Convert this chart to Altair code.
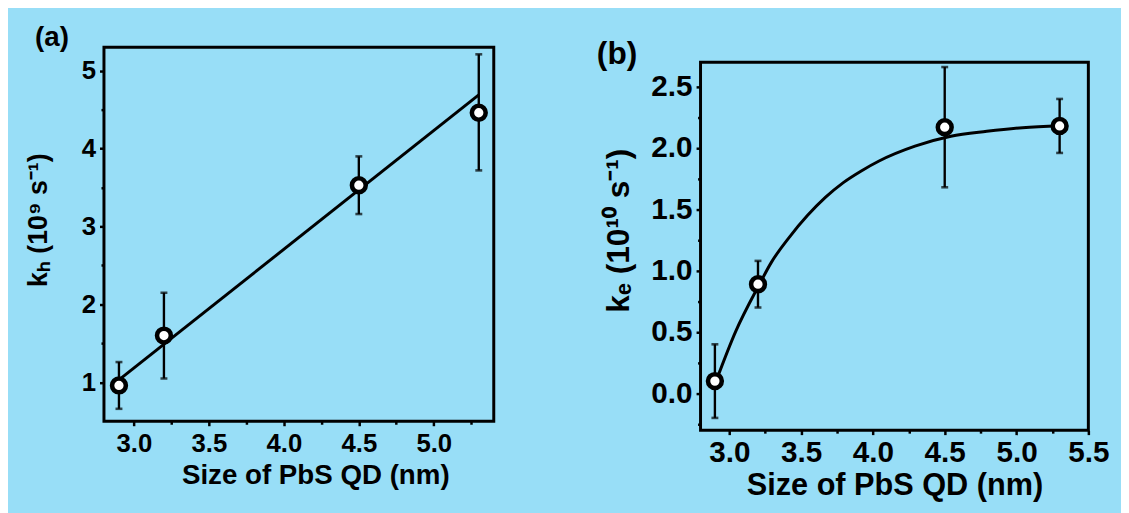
import altair as alt
import pandas as pd

# ---------------- data: panel (a) ----------------
size_a = [2.9, 3.2, 4.5, 5.3]
kh = [0.96, 1.60, 3.53, 4.46]
kh_lo = [0.66, 1.05, 3.16, 3.72]
kh_hi = [1.26, 2.15, 3.90, 5.21]
fit_a_x = [2.906, 5.30]
fit_a_y = [1.04, 4.69]

# ---------------- data: panel (b) ----------------
size_b = [2.9, 3.2, 4.5, 5.3]
ke = [0.10, 0.89, 2.17, 2.18]
ke_lo = [-0.20, 0.70, 1.68, 1.96]
ke_hi = [0.40, 1.08, 2.66, 2.40]
fit_b_x = [2.908, 3.045, 3.207, 3.295, 3.419, 3.544, 3.669, 3.794, 3.919,
           4.043, 4.293, 4.543, 4.793, 5.042, 5.305]
fit_b_y = [0.10, 0.506, 0.883, 1.072, 1.274, 1.449, 1.597, 1.718, 1.813,
           1.894, 2.015, 2.096, 2.136, 2.166, 2.182]

panel_labels = ["(a)", "(b)"]
x_title = "Size of PbS QD (nm)"
y_title_a = "kₕ (10⁹ s⁻¹)"
y_title_b = "kₑ (10¹⁰ s⁻¹)"

xa_major = [3.0, 3.5, 4.0, 4.5, 5.0]
xa_minor = [3.25, 3.75, 4.25, 4.75, 5.25]
ya_major = [1, 2, 3, 4, 5]
ya_minor = [1.5, 2.5, 3.5, 4.5]
xb_major = [3.0, 3.5, 4.0, 4.5, 5.0, 5.5]
xb_minor = [3.25, 3.75, 4.25, 4.75, 5.25]
yb_major = [0.0, 0.5, 1.0, 1.5, 2.0, 2.5]
yb_minor = [-0.25, 0.25, 0.75, 1.25, 1.75, 2.25]

FONT = "Liberation Sans"
BG = "#98DEF7"

common_axis = dict(domain=False, grid=False, tickColor="black", tickWidth=2.5,
                   labelColor="black", titleColor="black", labelFont=FONT,
                   titleFont=FONT, labelFontWeight="bold", titleFontWeight="bold",
                   labelFlush=False, labelOverlap=False)


def minor_axis(values, orient):
    return alt.Axis(values=values, labels=False, title=None, tickSize=3,
                    orient=orient, domain=False, grid=False, tickColor="black",
                    tickWidth=2.5)


def panel(xs, ys, lo, hi, fx, fy, xdom, ydom, xmaj, xmin, ymaj, ymin,
          yfmt, ytitle, tick_fs, xt_fs, yt_fs, xlabpad, xtitleX, xtitleY,
          ytitleX, ytitleY, label, lab_fs, lab_x, lab_y, w, h, interp):
    pts = pd.DataFrame({"x": xs, "y": ys, "lo": lo, "hi": hi})
    fit = pd.DataFrame({"x": fx, "y": fy})
    lab = pd.DataFrame({"t": [label]})
    xsc = alt.Scale(domain=xdom, nice=False, zero=False)
    ysc = alt.Scale(domain=ydom, nice=False, zero=False)

    xax = alt.Axis(values=xmaj, format=".1f", title=x_title,
                   orient="bottom", labelFontSize=tick_fs, titleFontSize=xt_fs,
                   tickSize=4.5, labelPadding=xlabpad, labelBaseline="alphabetic",
                   titleBaseline="alphabetic", titleX=xtitleX, titleY=xtitleY,
                   **common_axis)
    yax = alt.Axis(values=ymaj, format=yfmt, title=ytitle, orient="left",
                   labelFontSize=tick_fs, titleFontSize=yt_fs, tickSize=4.5,
                   labelPadding=4, titleAngle=270, titleBaseline="alphabetic",
                   titleAlign="center", titleX=ytitleX, titleY=ytitleY,
                   **common_axis)

    line = alt.Chart(fit).mark_line(color="black", strokeWidth=3,
                                    interpolate=interp).encode(
        x=alt.X("x:Q", scale=xsc, axis=minor_axis(xmin, "bottom")),
        y=alt.Y("y:Q", scale=ysc, axis=minor_axis(ymin, "left")),
    )
    bars = alt.Chart(pts).mark_rule(color="black", strokeWidth=2.4).encode(
        x=alt.X("x:Q", scale=xsc, axis=xax),
        y=alt.Y("lo:Q", scale=ysc, axis=yax),
        y2="hi:Q",
    )
    cap_lo = alt.Chart(pts).mark_tick(color="black", orient="horizontal",
                                      size=7, thickness=2.6).encode(
        x=alt.X("x:Q", scale=xsc, axis=None),
        y=alt.Y("lo:Q", scale=ysc, axis=None),
    )
    cap_hi = alt.Chart(pts).mark_tick(color="black", orient="horizontal",
                                      size=7, thickness=2.6).encode(
        x=alt.X("x:Q", scale=xsc, axis=None),
        y=alt.Y("hi:Q", scale=ysc, axis=None),
    )
    dots = alt.Chart(pts).mark_point(shape="circle", filled=True, fill="white",
                                     stroke="black", strokeWidth=4.6, size=195,
                                     opacity=1).encode(
        x=alt.X("x:Q", scale=xsc, axis=None),
        y=alt.Y("y:Q", scale=ysc, axis=None),
    )
    tag = alt.Chart(lab).mark_text(align="left", baseline="alphabetic",
                                   font=FONT, fontWeight="bold",
                                   fontSize=lab_fs, color="black").encode(
        x=alt.value(lab_x), y=alt.value(lab_y), text="t:N"
    )
    return alt.layer(line, bars, cap_lo, cap_hi, dots, tag).resolve_axis(
        x="independent", y="independent"
    ).properties(width=w, height=h)


pa = panel(size_a, kh, kh_lo, kh_hi, fit_a_x, fit_a_y, [2.8, 5.4], [0.5, 5.3],
           xa_major, xa_minor, ya_major, ya_minor, "d", y_title_a,
           26, 28, 27, 26.5, 213.6, 63, -57.7, 174.2,
           panel_labels[0], 28, -69.7, -1.5, 394, 378, "linear")
pb = panel(size_b, ke, ke_lo, ke_hi, fit_b_x, fit_b_y, [2.8, 5.5], [-0.3, 2.7],
           xb_major, xb_minor, yb_major, yb_minor, ".1f", y_title_b,
           30, 31, 32, 27.4, 196, 65.2, -73.3, 169.8,
           panel_labels[1], 32, -104.8, 2.3, 392, 372, "monotone")

spacer = alt.Chart(pd.DataFrame({"s": [0]})).mark_point(opacity=0).encode(
    x=alt.X("s:Q", axis=None), y=alt.Y("s:Q", axis=None)
).properties(width=392, height=15, view=alt.ViewBackground(stroke="transparent"))

right_col = alt.vconcat(spacer, pb, spacing=0, bounds="flush")

chart = alt.hconcat(pa, right_col, spacing=209, bounds="flush").properties(
    background=BG,
    padding={"left": 15, "top": 12, "right": 10, "bottom": 10},
).configure_view(stroke="black", strokeWidth=3, fill=None)

chart.save("out.html", embed_options={"renderer": "svg", "actions": False})
